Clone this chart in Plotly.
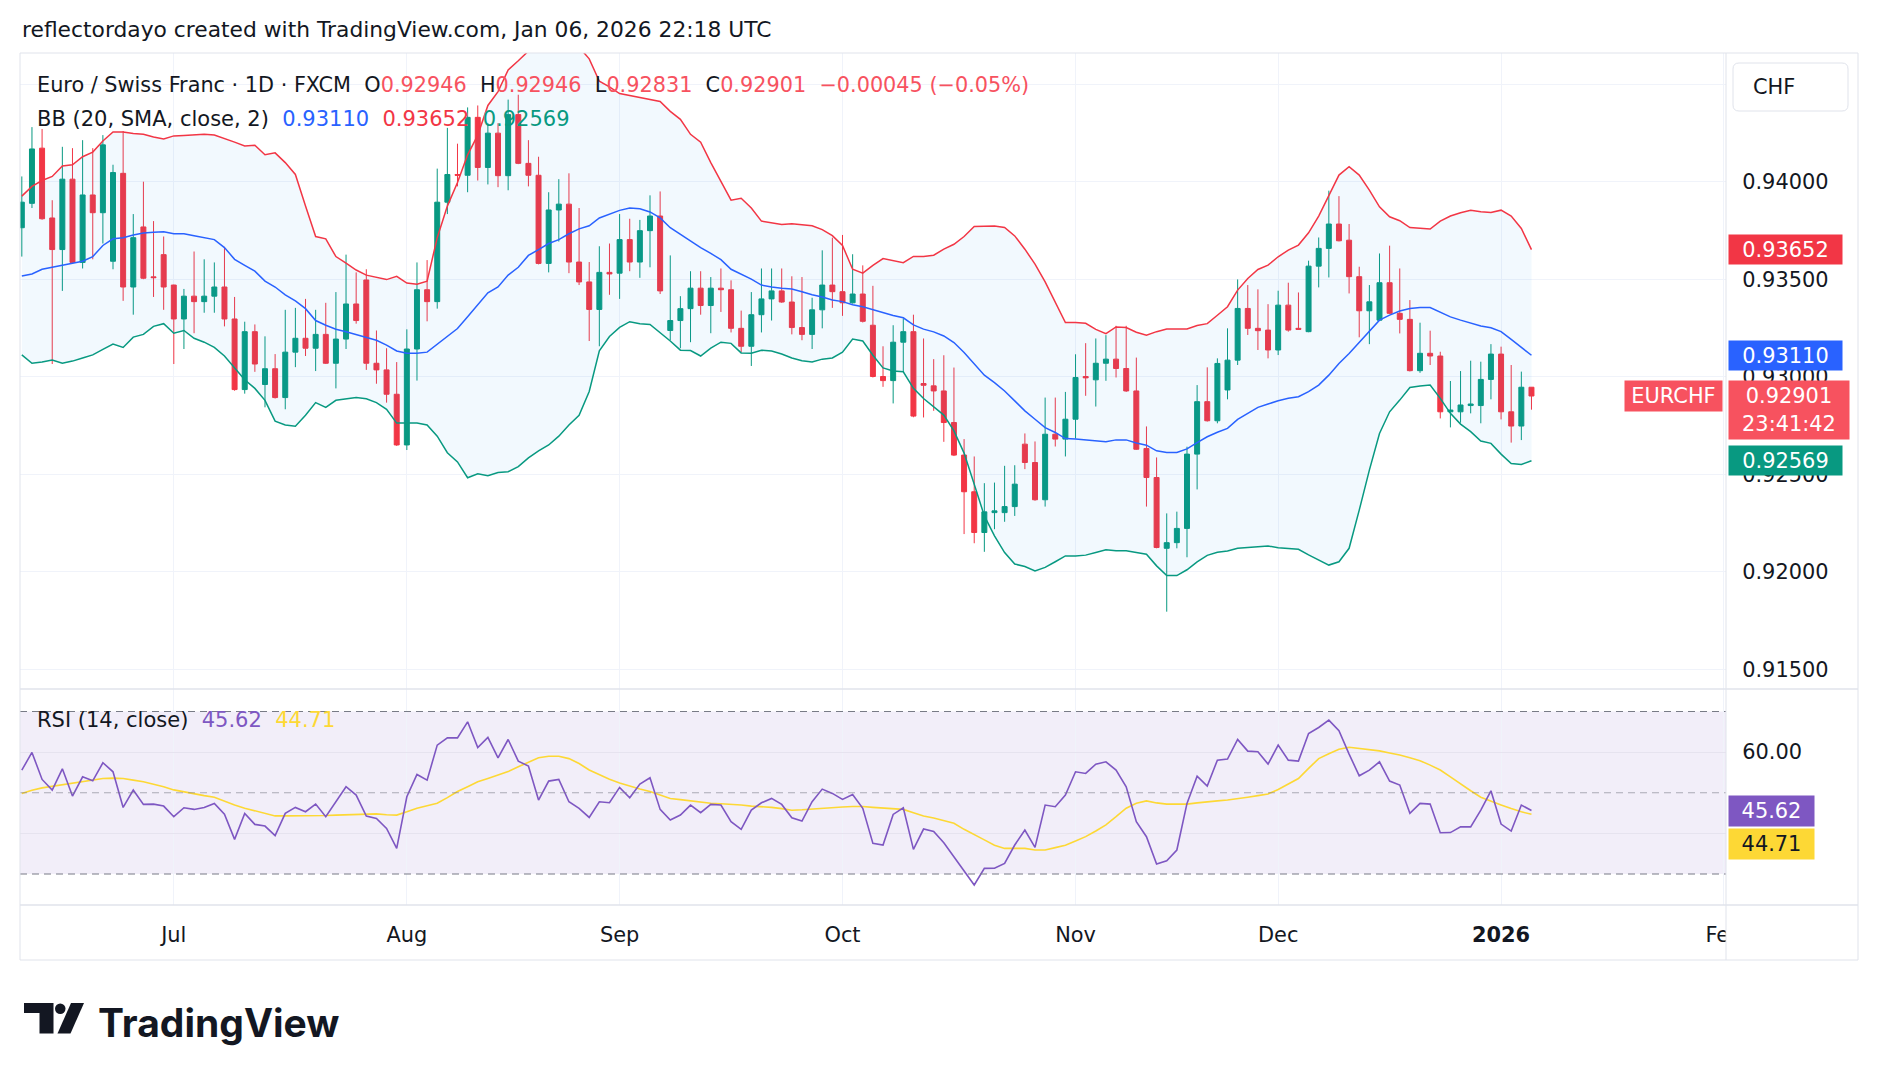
import plotly.graph_objects as go
import pandas as pd

# ---------------- data ----------------
dates = [d.strftime("%Y-%m-%d") for d in pd.bdate_range("2025-06-10", "2026-01-06")
         if d.strftime("%Y-%m-%d") != "2025-12-25"]

opens = [0.93764, 0.93889, 0.94172, 0.93814, 0.93652, 0.94013, 0.93586, 0.93932, 0.93841, 0.93592,
         0.94043, 0.93460, 0.93768, 0.93512, 0.93626, 0.93470, 0.93296, 0.93413, 0.93385, 0.93413,
         0.93460, 0.93296, 0.92934, 0.93231, 0.92960, 0.93041, 0.92893, 0.93126, 0.93197, 0.93146,
         0.93217, 0.93069, 0.93193, 0.93373, 0.93496, 0.93069, 0.93035, 0.92910, 0.92650, 0.93142,
         0.93446, 0.93385, 0.93895, 0.94037, 0.94033, 0.94330, 0.94073, 0.94249, 0.94031, 0.94344,
         0.94094, 0.94033, 0.93581, 0.93855, 0.93885, 0.93588, 0.93486, 0.93345, 0.93535, 0.93531,
         0.93703, 0.93588, 0.93749, 0.93824, 0.93237, 0.93288, 0.93349, 0.93454, 0.93365, 0.93454,
         0.93446, 0.93248, 0.93156, 0.93318, 0.93399, 0.93440, 0.93383, 0.93252, 0.93217, 0.93343,
         0.93470, 0.93436, 0.93379, 0.93424, 0.93264, 0.93001, 0.92980, 0.93177, 0.93231, 0.92965,
         0.92953, 0.92927, 0.92765, 0.92598, 0.92410, 0.92201, 0.92303, 0.92303, 0.92334, 0.92654,
         0.92560, 0.92369, 0.92705, 0.92680, 0.92782, 0.93001, 0.92984, 0.93069, 0.93090, 0.93042,
         0.92927, 0.92632, 0.92483, 0.92120, 0.92149, 0.92222, 0.92603, 0.92872, 0.92774, 0.92932,
         0.93085, 0.93350, 0.93248, 0.93239, 0.93137, 0.93367, 0.93248, 0.93231, 0.93567, 0.93658,
         0.93783, 0.93700, 0.93513, 0.93338, 0.93290, 0.93482, 0.93325, 0.93294, 0.93031, 0.93120,
         0.93106, 0.92820, 0.92820, 0.92852, 0.92852, 0.92986, 0.93116, 0.92820, 0.92747, 0.92946]

highs = [0.94027, 0.94280, 0.94270, 0.93905, 0.94179, 0.94172, 0.94213, 0.94172, 0.94239, 0.94087,
         0.94260, 0.93834, 0.94000, 0.93798, 0.93719, 0.93472, 0.93450, 0.93642, 0.93602, 0.93586,
         0.93666, 0.93409, 0.93282, 0.93268, 0.93207, 0.93116, 0.93343, 0.93353, 0.93399, 0.93343,
         0.93379, 0.93434, 0.93626, 0.93535, 0.93551, 0.93237, 0.93146, 0.93075, 0.93243, 0.93586,
         0.93598, 0.94067, 0.94276, 0.94195, 0.94381, 0.94391, 0.94300, 0.94300, 0.94421, 0.94446,
         0.94213, 0.94128, 0.93946, 0.94013, 0.94043, 0.93865, 0.93588, 0.93669, 0.93683, 0.93834,
         0.93810, 0.93804, 0.93930, 0.93950, 0.93622, 0.93413, 0.93541, 0.93541, 0.93511, 0.93555,
         0.93494, 0.93339, 0.93434, 0.93555, 0.93555, 0.93555, 0.93515, 0.93511, 0.93405, 0.93648,
         0.93713, 0.93727, 0.93628, 0.93571, 0.93466, 0.93156, 0.93264, 0.93298, 0.93318, 0.93196,
         0.93090, 0.93110, 0.93047, 0.92680, 0.92591, 0.92454, 0.92457, 0.92543, 0.92546, 0.92709,
         0.92668, 0.92893, 0.92893, 0.92922, 0.93115, 0.93172, 0.93196, 0.93213, 0.93261, 0.93261,
         0.93098, 0.92745, 0.92586, 0.92299, 0.92308, 0.92641, 0.92957, 0.93048, 0.93094, 0.93248,
         0.93499, 0.93470, 0.93448, 0.93372, 0.93441, 0.93482, 0.93432, 0.93595, 0.93714, 0.93954,
         0.93926, 0.93783, 0.93564, 0.93470, 0.93632, 0.93672, 0.93555, 0.93393, 0.93277, 0.93236,
         0.93128, 0.92978, 0.93029, 0.93082, 0.93077, 0.93167, 0.93154, 0.93060, 0.93026, 0.92946]

lows = [0.93616, 0.93865, 0.93805, 0.93065, 0.93440, 0.93580, 0.93555, 0.93602, 0.93683, 0.93551,
        0.93389, 0.93318, 0.93500, 0.93409, 0.93343, 0.93065, 0.93142, 0.93223, 0.93328, 0.93328,
        0.93258, 0.92928, 0.92913, 0.93025, 0.92843, 0.92888, 0.92833, 0.93049, 0.93106, 0.93029,
        0.93065, 0.92940, 0.93142, 0.93272, 0.93035, 0.92964, 0.92867, 0.92645, 0.92624, 0.92980,
        0.93284, 0.93349, 0.93834, 0.93976, 0.93946, 0.94006, 0.93986, 0.93972, 0.93956, 0.94090,
        0.93976, 0.93576, 0.93535, 0.93693, 0.93531, 0.93470, 0.93183, 0.93156, 0.93420, 0.93399,
        0.93541, 0.93507, 0.93561, 0.93424, 0.93187, 0.93146, 0.93177, 0.93318, 0.93223, 0.93332,
        0.93227, 0.93126, 0.93055, 0.93227, 0.93288, 0.93379, 0.93217, 0.93187, 0.93142, 0.93248,
        0.93353, 0.93312, 0.93375, 0.93278, 0.92996, 0.92948, 0.92863, 0.93025, 0.92792, 0.92791,
        0.92825, 0.92666, 0.92593, 0.92193, 0.92146, 0.92102, 0.92218, 0.92256, 0.92286, 0.92526,
        0.92364, 0.92334, 0.92642, 0.92591, 0.92683, 0.92902, 0.92847, 0.92979, 0.92996, 0.92922,
        0.92625, 0.92334, 0.92120, 0.91795, 0.92120, 0.92074, 0.92422, 0.92770, 0.92761, 0.92884,
        0.93060, 0.93214, 0.93137, 0.93094, 0.93111, 0.93231, 0.93240, 0.93228, 0.93458, 0.93509,
        0.93694, 0.93427, 0.93202, 0.93167, 0.93286, 0.93321, 0.93222, 0.93027, 0.93020, 0.93060,
        0.92786, 0.92740, 0.92764, 0.92812, 0.92761, 0.92884, 0.92781, 0.92662, 0.92675, 0.92831]

closes = [0.93895, 0.94168, 0.93810, 0.93652, 0.94013, 0.93586, 0.93932, 0.93841, 0.94189, 0.94047,
          0.93460, 0.93713, 0.93505, 0.93508, 0.93460, 0.93296, 0.93413, 0.93385, 0.93413, 0.93460,
          0.93296, 0.92934, 0.93231, 0.93065, 0.93041, 0.92893, 0.93126, 0.93197, 0.93146, 0.93217,
          0.93069, 0.93193, 0.93373, 0.93288, 0.93069, 0.93035, 0.92910, 0.92650, 0.93142, 0.93446,
          0.93385, 0.93895, 0.94037, 0.94033, 0.94330, 0.94073, 0.94249, 0.94031, 0.94344, 0.94094,
          0.94033, 0.93581, 0.93855, 0.93885, 0.93588, 0.93486, 0.93345, 0.93535, 0.93527, 0.93703,
          0.93588, 0.93749, 0.93824, 0.93440, 0.93288, 0.93349, 0.93454, 0.93365, 0.93454, 0.93446,
          0.93248, 0.93156, 0.93318, 0.93399, 0.93440, 0.93383, 0.93252, 0.93217, 0.93343, 0.93470,
          0.93436, 0.93379, 0.93424, 0.93284, 0.93001, 0.92980, 0.93177, 0.93231, 0.92798, 0.92956,
          0.92927, 0.92765, 0.92598, 0.92410, 0.92201, 0.92307, 0.92312, 0.92334, 0.92449, 0.92560,
          0.92369, 0.92705, 0.92680, 0.92782, 0.92996, 0.92994, 0.93069, 0.93090, 0.93042, 0.92927,
          0.92628, 0.92483, 0.92124, 0.92149, 0.92222, 0.92603, 0.92872, 0.92774, 0.93068, 0.93085,
          0.93350, 0.93248, 0.93236, 0.93137, 0.93367, 0.93239, 0.93243, 0.93567, 0.93658, 0.93783,
          0.93697, 0.93513, 0.93338, 0.93384, 0.93482, 0.93325, 0.93294, 0.93031, 0.93120, 0.93106,
          0.92820, 0.92829, 0.92855, 0.92860, 0.92986, 0.93116, 0.92820, 0.92747, 0.92946, 0.92901]

bb_upper = [0.93926, 0.93976, 0.94006, 0.94027, 0.94081, 0.94087, 0.94128, 0.94152, 0.94209, 0.94255,
            0.94255, 0.94247, 0.94243, 0.94229, 0.94219, 0.94235, 0.94237, 0.94239, 0.94243, 0.94239,
            0.94223, 0.94203, 0.94183, 0.94187, 0.94138, 0.94148, 0.94098, 0.94037, 0.93875, 0.93719,
            0.93707, 0.93616, 0.93582, 0.93547, 0.93521, 0.93511, 0.93498, 0.93515, 0.93480, 0.93474,
            0.93490, 0.93713, 0.93875, 0.93996, 0.94138, 0.94239, 0.94391, 0.94462, 0.94573, 0.94620,
            0.94670, 0.94690, 0.94710, 0.94710, 0.94710, 0.94690, 0.94630, 0.94515, 0.94486, 0.94452,
            0.94442, 0.94432, 0.94421, 0.94411, 0.94361, 0.94320, 0.94243, 0.94203, 0.94098, 0.94000,
            0.93905, 0.93915, 0.93865, 0.93798, 0.93788, 0.93780, 0.93784, 0.93778, 0.93774, 0.93754,
            0.93723, 0.93673, 0.93551, 0.93531, 0.93571, 0.93606, 0.93596, 0.93585, 0.93617, 0.93616,
            0.93623, 0.93654, 0.93679, 0.93719, 0.93770, 0.93773, 0.93773, 0.93765, 0.93722, 0.93654,
            0.93577, 0.93486, 0.93380, 0.93278, 0.93278, 0.93274, 0.93243, 0.93221, 0.93255, 0.93252,
            0.93228, 0.93213, 0.93231, 0.93245, 0.93245, 0.93245, 0.93263, 0.93272, 0.93315, 0.93359,
            0.93444, 0.93504, 0.93550, 0.93572, 0.93615, 0.93649, 0.93675, 0.93738, 0.93824, 0.93931,
            0.94034, 0.94077, 0.94034, 0.93957, 0.93871, 0.93820, 0.93800, 0.93765, 0.93760, 0.93757,
            0.93798, 0.93824, 0.93841, 0.93854, 0.93846, 0.93842, 0.93854, 0.93824, 0.93760, 0.93652]

bb_basis = [0.93517, 0.93527, 0.93551, 0.93561, 0.93571, 0.93581, 0.93592, 0.93616, 0.93673, 0.93707,
            0.93713, 0.93727, 0.93737, 0.93741, 0.93743, 0.93733, 0.93733, 0.93723, 0.93713, 0.93703,
            0.93662, 0.93602, 0.93571, 0.93541, 0.93490, 0.93460, 0.93420, 0.93389, 0.93349, 0.93288,
            0.93264, 0.93243, 0.93231, 0.93217, 0.93203, 0.93187, 0.93162, 0.93132, 0.93120, 0.93120,
            0.93126, 0.93166, 0.93207, 0.93247, 0.93308, 0.93369, 0.93430, 0.93460, 0.93521, 0.93561,
            0.93622, 0.93652, 0.93683, 0.93703, 0.93733, 0.93758, 0.93774, 0.93814, 0.93834, 0.93853,
            0.93865, 0.93861, 0.93845, 0.93814, 0.93764, 0.93729, 0.93693, 0.93662, 0.93632, 0.93600,
            0.93551, 0.93527, 0.93500, 0.93470, 0.93460, 0.93454, 0.93450, 0.93436, 0.93420, 0.93409,
            0.93393, 0.93385, 0.93369, 0.93359, 0.93343, 0.93329, 0.93314, 0.93302, 0.93266, 0.93244,
            0.93230, 0.93209, 0.93175, 0.93124, 0.93064, 0.93008, 0.92970, 0.92927, 0.92876, 0.92825,
            0.92782, 0.92739, 0.92714, 0.92683, 0.92680, 0.92676, 0.92671, 0.92666, 0.92676, 0.92676,
            0.92660, 0.92649, 0.92620, 0.92611, 0.92611, 0.92630, 0.92662, 0.92692, 0.92715, 0.92735,
            0.92781, 0.92812, 0.92843, 0.92860, 0.92877, 0.92889, 0.92897, 0.92923, 0.92957, 0.93008,
            0.93068, 0.93119, 0.93176, 0.93231, 0.93290, 0.93316, 0.93337, 0.93350, 0.93355, 0.93355,
            0.93333, 0.93307, 0.93290, 0.93277, 0.93260, 0.93251, 0.93231, 0.93191, 0.93150, 0.93110]

bb_lower = [0.93112, 0.93069, 0.93075, 0.93086, 0.93069, 0.93080, 0.93096, 0.93112, 0.93140, 0.93167,
            0.93150, 0.93203, 0.93217, 0.93258, 0.93272, 0.93223, 0.93237, 0.93197, 0.93177, 0.93150,
            0.93106, 0.93045, 0.92984, 0.92940, 0.92879, 0.92772, 0.92752, 0.92746, 0.92802, 0.92867,
            0.92843, 0.92879, 0.92887, 0.92893, 0.92887, 0.92867, 0.92833, 0.92762, 0.92762, 0.92762,
            0.92752, 0.92695, 0.92610, 0.92563, 0.92482, 0.92502, 0.92492, 0.92509, 0.92513, 0.92539,
            0.92584, 0.92620, 0.92650, 0.92695, 0.92752, 0.92802, 0.92924, 0.93133, 0.93206, 0.93253,
            0.93282, 0.93272, 0.93268, 0.93227, 0.93183, 0.93136, 0.93134, 0.93106, 0.93146, 0.93177,
            0.93171, 0.93122, 0.93120, 0.93136, 0.93132, 0.93116, 0.93096, 0.93082, 0.93075, 0.93090,
            0.93096, 0.93126, 0.93193, 0.93183, 0.93110, 0.93045, 0.93029, 0.93025, 0.92940, 0.92888,
            0.92847, 0.92803, 0.92722, 0.92608, 0.92449, 0.92286, 0.92184, 0.92098, 0.92039, 0.92027,
            0.92004, 0.92022, 0.92051, 0.92081, 0.92081, 0.92085, 0.92098, 0.92112, 0.92107, 0.92107,
            0.92098, 0.92090, 0.92030, 0.91980, 0.91980, 0.92010, 0.92050, 0.92084, 0.92100, 0.92106,
            0.92120, 0.92123, 0.92128, 0.92132, 0.92123, 0.92120, 0.92115, 0.92086, 0.92060, 0.92034,
            0.92051, 0.92120, 0.92316, 0.92521, 0.92709, 0.92820, 0.92880, 0.92945, 0.92952, 0.92957,
            0.92889, 0.92812, 0.92757, 0.92718, 0.92670, 0.92658, 0.92603, 0.92555, 0.92550, 0.92569]

rsi = [55.57, 59.92, 53.28, 50.66, 55.90, 49.18, 53.93, 52.95, 57.38, 55.16,
       46.39, 50.66, 47.13, 47.20, 46.72, 44.10, 46.31, 45.90, 46.39, 47.38,
       44.75, 38.52, 44.92, 42.21, 41.80, 39.43, 44.92, 46.39, 45.33, 47.21,
       44.10, 47.79, 51.48, 49.43, 44.26, 43.69, 41.23, 36.31, 49.02, 54.51,
       53.11, 61.72, 63.52, 63.50, 67.46, 61.15, 63.61, 58.61, 63.11, 57.79,
       56.56, 48.20, 52.87, 53.28, 47.79, 46.15, 43.93, 47.79, 47.54, 51.31,
       48.77, 52.13, 53.69, 45.90, 43.28, 44.51, 46.97, 45.08, 47.13, 46.97,
       42.87, 40.98, 45.74, 47.54, 48.61, 47.13, 43.85, 43.03, 47.79, 50.90,
       49.84, 48.36, 49.59, 46.15, 37.54, 37.13, 44.67, 46.31, 36.07, 41.07,
       40.49, 37.70, 34.26, 30.98, 27.30, 31.39, 31.40, 32.62, 37.13, 40.82,
       36.56, 46.97, 46.56, 49.43, 55.16, 54.75, 57.05, 57.62, 55.57, 51.48,
       42.87, 39.18, 32.46, 33.28, 35.90, 47.38, 54.10, 51.64, 58.03, 58.28,
       63.11, 60.25, 60.08, 57.05, 61.72, 58.03, 57.79, 64.59, 66.07, 67.87,
       65.25, 59.51, 54.18, 55.57, 57.62, 52.87, 51.89, 44.92, 47.38, 47.21,
       40.16, 40.20, 41.64, 41.60, 45.74, 50.49, 42.30, 40.57, 46.97, 45.62]

rsi_ma = [49.8, 50.6, 51.2, 51.6, 51.9, 52.3, 52.7, 53.1, 53.5, 53.6,
          53.5, 53.1, 52.7, 52.1, 51.5, 50.7, 50.2, 49.7, 49.3, 48.9,
          47.9, 47.0, 46.2, 45.6, 44.9, 44.3, 44.3, 44.3, 44.3, 44.3,
          44.4, 44.5, 44.6, 44.7, 44.8, 44.8, 44.6, 44.5, 45.3, 46.2,
          46.8, 47.4, 48.8, 50.3, 51.5, 52.7, 53.5, 54.3, 55.2, 56.4,
          57.6, 58.6, 59.0, 59.0, 58.4, 57.2, 55.6, 54.4, 53.3, 52.4,
          51.6, 50.9, 50.3, 49.4, 48.6, 48.3, 48.0, 47.7, 47.4, 47.3,
          47.2, 47.0, 46.7, 46.6, 46.4, 46.1, 45.7, 45.8, 46.0, 46.2,
          46.4, 46.5, 46.6, 46.6, 46.4, 46.2, 46.0, 45.9, 45.1, 44.3,
          43.8, 43.2, 42.5, 41.0, 39.6, 38.4, 37.1, 36.3, 36.3, 36.3,
          35.9, 35.9, 36.5, 37.1, 38.1, 39.2, 40.6, 42.1, 44.1, 46.2,
          47.4, 48.0, 47.5, 47.2, 47.2, 47.2, 47.5, 47.8, 48.0, 48.2,
          48.5, 48.9, 49.3, 49.7, 50.8, 52.1, 53.5, 56.0, 58.4, 59.6,
          60.7, 61.2, 60.9, 60.6, 60.3, 59.8, 59.3, 58.6, 57.9, 56.8,
          55.6, 53.9, 52.1, 50.5, 48.9, 47.9, 47.0, 46.1, 45.3, 44.71]

price_ticks = [0.915, 0.920, 0.925, 0.930, 0.935, 0.940, 0.945]
price_tick_text = ["0.91500", "0.92000", "0.92500", "0.93000", "0.93500", "0.94000", ""]
rsi_levels = [30, 50, 70]
rsi_grid = [40, 60]

# ---------------- layout helpers ----------------
OFF = 8                                  # default page margin around the plot div
W, H = 1860, 1060                        # figure size so the page fits the window
FONT = "DejaVu Sans"
TXT = "#131722"
GRID = "#F0F3FA"
BORDER = "#E0E3EB"
UP, DOWN = "#089981", "#F23645"
BLUE, PURPLE, YELLOW = "#2962FF", "#7E57C2", "#FDD835"
LAST = "#F7525F"
NB = "\u00a0"

PL, PR, FR = 20, 1726, 1858          # plot left, plot right, frame right (screen px)
TOP, SPLIT, RBOT, FBOT = 53, 689, 905, 960


def px(x):
    return (x - OFF) / W


def py(y):
    return 1 - (y - OFF) / H


xi = list(range(len(dates)))

tick_pos, tick_txt = [], []
for i in range(1, len(dates)):
    if dates[i][:7] != dates[i - 1][:7]:
        ts = pd.Timestamp(dates[i])
        tick_pos.append(i)
        tick_txt.append(f"<b>{ts.year}</b>" if ts.month == 1 else ts.strftime("%b"))
future = pd.bdate_range("2026-01-07", "2026-02-02")
tick_pos.append(len(dates) + len(future) - 1)
tick_txt.append("Feb")

x_range = [-0.18, 168.2]

fig = go.Figure()

fig.add_trace(go.Scatter(x=xi, y=bb_upper, mode="lines", line=dict(color=DOWN, width=1.5),
                         xaxis="x", yaxis="y", hoverinfo="skip"))
fig.add_trace(go.Scatter(x=xi, y=bb_lower, mode="lines", line=dict(color=UP, width=1.5),
                         fill="tonexty", fillcolor="rgba(33,150,243,0.06)",
                         xaxis="x", yaxis="y", hoverinfo="skip"))
fig.add_trace(go.Scatter(x=xi, y=bb_basis, mode="lines", line=dict(color=BLUE, width=1.5),
                         xaxis="x", yaxis="y", hoverinfo="skip"))
fig.add_trace(go.Candlestick(x=xi, open=opens, high=highs, low=lows, close=closes,
                             increasing=dict(line=dict(color=UP, width=1), fillcolor=UP),
                             decreasing=dict(line=dict(color=DOWN, width=1), fillcolor=DOWN),
                             whiskerwidth=0, xaxis="x", yaxis="y", hoverinfo="skip"))
fig.add_trace(go.Scatter(x=xi, y=rsi_ma, mode="lines", line=dict(color=YELLOW, width=1.6),
                         xaxis="x2", yaxis="y2", hoverinfo="skip"))
fig.add_trace(go.Scatter(x=xi, y=rsi, mode="lines", line=dict(color=PURPLE, width=1.6),
                         xaxis="x2", yaxis="y2", hoverinfo="skip"))

axis_font = dict(family=FONT, size=20.9, color=TXT)

fig.update_layout(
    width=W, height=H, margin=dict(l=0, r=0, t=0, b=0, pad=0, autoexpand=False), autosize=False,
    paper_bgcolor="white", plot_bgcolor="white", showlegend=False, hovermode=False,
    xaxis=dict(domain=[px(PL), px(PR)], range=x_range, anchor="y", automargin=False,
               tickvals=tick_pos, showticklabels=False, showgrid=True, gridcolor=GRID,
               zeroline=False, showline=False, rangeslider=dict(visible=False)),
    yaxis=dict(domain=[py(SPLIT), py(TOP)], range=[0.913985, 0.9466], anchor="x", side="right",
               automargin=False,
               tickvals=price_ticks, ticktext=price_tick_text, ticks="outside", ticklen=11,
               tickcolor="rgba(0,0,0,0)", tickfont=axis_font, showgrid=True, gridcolor=GRID,
               zeroline=False, showline=False),
    xaxis2=dict(domain=[px(PL), px(PR)], range=x_range, anchor="y2", automargin=False,
                tickvals=tick_pos, ticktext=tick_txt, ticks="outside", ticklen=11,
                tickcolor="rgba(0,0,0,0)", tickfont=axis_font, showgrid=True, gridcolor=GRID,
                zeroline=False, showline=False, rangeslider=dict(visible=False)),
    yaxis2=dict(domain=[py(RBOT), py(SPLIT)], range=[22.37, 75.54], anchor="x2", side="right",
                automargin=False,
                tickvals=rsi_grid, ticktext=["", "60.00"], ticks="outside", ticklen=11,
                tickcolor="rgba(0,0,0,0)", tickfont=axis_font, showgrid=True,
                gridcolor="#E6E3EF", zeroline=False, showline=False),
)

shapes = []
# RSI background band
shapes.append(dict(type="rect", xref="paper", yref="y2", x0=px(PL), x1=px(PR),
                   y0=rsi_levels[0], y1=rsi_levels[2], fillcolor="rgba(126,87,194,0.1)",
                   line=dict(width=0), layer="below"))
for lv in rsi_levels:
    shapes.append(dict(type="line", xref="paper", yref="y2", x0=px(PL), x1=px(PR), y0=lv, y1=lv,
                       line=dict(color="#787B86" if lv != 50 else "rgba(120,123,134,0.6)",
                                 width=1, dash="7px,5px"), layer="above"))
# the time-scale row ends at the price-scale column (clips the last month label)
shapes.append(dict(type="rect", xref="paper", yref="paper", x0=px(PR), x1=px(FR),
                   y0=py(FBOT), y1=py(RBOT), fillcolor="white", line=dict(width=0), layer="above"))
# frame + separators
shapes.append(dict(type="rect", xref="paper", yref="paper", x0=px(PL), x1=px(FR),
                   y0=py(FBOT), y1=py(TOP), line=dict(color=BORDER, width=1)))
shapes.append(dict(type="line", xref="paper", yref="paper", x0=px(PR), x1=px(PR),
                   y0=py(FBOT), y1=py(TOP), line=dict(color=BORDER, width=1)))
for yy in (SPLIT, RBOT):
    shapes.append(dict(type="line", xref="paper", yref="paper", x0=px(PL), x1=px(FR),
                       y0=py(yy), y1=py(yy), line=dict(color=BORDER, width=1.5)))


def rrect(x0, y0, x1, y1, r):
    return (f"M {px(x0 + r)},{py(y0)} L {px(x1 - r)},{py(y0)} Q {px(x1)},{py(y0)} {px(x1)},{py(y0 + r)} "
            f"L {px(x1)},{py(y1 - r)} Q {px(x1)},{py(y1)} {px(x1 - r)},{py(y1)} "
            f"L {px(x0 + r)},{py(y1)} Q {px(x0)},{py(y1)} {px(x0)},{py(y1 - r)} "
            f"L {px(x0)},{py(y0 + r)} Q {px(x0)},{py(y0)} {px(x0 + r)},{py(y0)} Z")


# CHF currency box
shapes.append(dict(type="path", xref="paper", yref="paper", path=rrect(1733, 63, 1848, 111, 6),
                   line=dict(color=BORDER, width=1), fillcolor="white"))


# TradingView logo mark
def poly(pts):
    return "M " + " L ".join(f"{px(a)},{py(b)}" for a, b in pts) + " Z"


shapes.append(dict(type="path", xref="paper", yref="paper", line=dict(width=0), fillcolor=TXT,
                   path=poly([(24, 1003), (53.5, 1003), (53.5, 1033.5), (39.5, 1033.5),
                              (39.5, 1013), (24, 1013)])))
shapes.append(dict(type="circle", xref="paper", yref="paper", line=dict(width=0), fillcolor=TXT,
                   x0=px(55), x1=px(65.5), y0=py(1014), y1=py(1003.5)))
shapes.append(dict(type="path", xref="paper", yref="paper", line=dict(width=0), fillcolor=TXT,
                   path=poly([(71, 1003), (84, 1003), (70.5, 1033.5), (57.5, 1033.5)])))

fig.update_layout(shapes=shapes)


def span(c, t):
    return f"<span style='color:{c}'>{t}</span>"


chg = closes[-1] - closes[-2]
pct = chg / closes[-2] * 100
sgn = "\u2212" if chg < 0 else "+"
line1 = ("Euro / Swiss Franc · 1D · FXCM" + NB * 2 + "O" + span(LAST, f"{opens[-1]:.5f}") + NB * 2 +
         "H" + span(LAST, f"{highs[-1]:.5f}") + NB * 2 + "L" + span(LAST, f"{lows[-1]:.5f}") + NB * 2 +
         "C" + span(LAST, f"{closes[-1]:.5f}") + NB * 2 +
         span(LAST, f"{sgn}{abs(chg):.5f} ({sgn}{abs(pct):.2f}%)"))
line2 = ("BB (20, SMA, close, 2)" + NB * 2 + span(BLUE, f"{bb_basis[-1]:.5f}") + NB * 2 +
         span(DOWN, f"{bb_upper[-1]:.5f}") + NB * 2 + span(UP, f"{bb_lower[-1]:.5f}"))
line3 = ("RSI (14, close)" + NB * 2 + span(PURPLE, f"{rsi[-1]:.2f}") + NB * 2 +
         span(YELLOW, f"{rsi_ma[-1]:.2f}"))

ann = []
ann.append(dict(x=px(20), y=py(30), xref="paper", yref="paper", xanchor="left", yanchor="middle",
                text="reflectordayo created with TradingView.com, Jan 06, 2026 22:18 UTC",
                showarrow=False, font=dict(family=FONT, size=21.8, color=TXT)))
ann.append(dict(x=px(35), y=py(85), xref="paper", yref="paper", xanchor="left", yanchor="middle",
                text=line1, showarrow=False, font=dict(family=FONT, size=20.8, color=TXT)))
ann.append(dict(x=px(35), y=py(119), xref="paper", yref="paper", xanchor="left", yanchor="middle",
                text=line2, showarrow=False, font=dict(family=FONT, size=21, color=TXT)))
ann.append(dict(x=px(35), y=py(720), xref="paper", yref="paper", xanchor="left", yanchor="middle",
                text=line3, showarrow=False, font=dict(family=FONT, size=21, color=TXT)))


def tag(text, y, yref, bg, fg="white", yshift=0, w=107, h=23):
    return dict(x=px(1728), xref="paper", xanchor="left", y=y, yref=yref, yanchor="middle",
                text=text, showarrow=False, bgcolor=bg, font=dict(family=FONT, size=20.9, color=fg),
                width=w, height=h, borderpad=3, align="center", yshift=yshift)


ann.append(tag(f"{bb_upper[-1]:.5f}", bb_upper[-1], "y", DOWN))
ann.append(tag(f"{bb_basis[-1]:.5f}", bb_basis[-1], "y", BLUE))
ann.append(tag(f"{bb_lower[-1]:.5f}", bb_lower[-1], "y", UP))
ann.append(tag(f"{closes[-1]:.5f}<br>23:41:42", closes[-1], "y", LAST, yshift=-14, w=114, h=52))
ann.append(dict(x=px(1673.5), xref="paper", xanchor="center", y=closes[-1], yref="y",
                yanchor="middle", text="EURCHF", showarrow=False, bgcolor=LAST,
                font=dict(family=FONT, size=20.9, color="white"), width=91, height=24, borderpad=3))
ann.append(tag(f"{rsi[-1]:.2f}", rsi[-1], "y2", PURPLE, w=79, h=24))
ann.append(tag(f"{rsi_ma[-1]:.2f}", rsi_ma[-1], "y2", YELLOW, fg=TXT, yshift=-30, w=79, h=24))
ann.append(dict(x=px(1751), y=py(87), xref="paper", yref="paper", xanchor="left", yanchor="middle",
                text="CHF", showarrow=False, font=dict(family=FONT, size=20.9, color=TXT)))
ann.append(dict(x=px(96), y=py(1022), xref="paper", yref="paper", xanchor="left", yanchor="middle",
                text="<b>TradingView</b>", showarrow=False,
                font=dict(family="Inter", size=39, color=TXT)))

fig.update_layout(annotations=ann)

fig.write_html("out.html")
